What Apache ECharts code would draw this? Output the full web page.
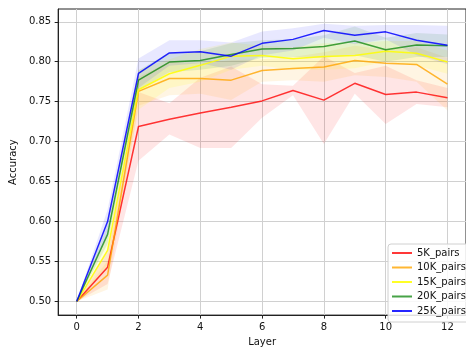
<!DOCTYPE html>
<html>
<head>
<meta charset="utf-8">
<script src="https://cdn.jsdelivr.net/npm/echarts@6/dist/echarts.min.js"></script>
<style>
  html, body { margin: 0; padding: 0; background: #fff; }
  #chart { width: 466px; height: 352px; }
</style>
</head>
<body>
<div id="chart"></div>
<script>
// Probe accuracy per layer, mean with a shaded lower/upper band per training size
const layers = [0, 1, 2, 3, 4, 5, 6, 7, 8, 9, 10, 11, 12];
const xTicks = [0, 2, 4, 6, 8, 10, 12];
const yTicks = [0.50, 0.55, 0.60, 0.65, 0.70, 0.75, 0.80, 0.85];

const names = ['5K_pairs', '10K_pairs', '15K_pairs', '20K_pairs', '25K_pairs'];

const mean5K = [0.500, 0.543, 0.719, 0.728, 0.736, 0.743, 0.751, 0.764, 0.752, 0.773, 0.759, 0.762, 0.755];
const low5K  = [0.500, 0.522, 0.676, 0.709, 0.692, 0.692, 0.730, 0.758, 0.697, 0.760, 0.722, 0.747, 0.743];
const high5K = [0.500, 0.565, 0.762, 0.748, 0.780, 0.794, 0.772, 0.770, 0.807, 0.786, 0.795, 0.777, 0.767];

const mean10K = [0.500, 0.533, 0.763, 0.779, 0.779, 0.777, 0.789, 0.7915, 0.7935, 0.8016, 0.798, 0.7967, 0.772];
const low10K  = [0.500, 0.515, 0.745, 0.758, 0.760, 0.752, 0.775, 0.777, 0.775, 0.783, 0.781, 0.775, 0.739];
const high10K = [0.500, 0.551, 0.781, 0.800, 0.798, 0.802, 0.803, 0.806, 0.812, 0.820, 0.815, 0.818, 0.805];

const mean15K = [0.500, 0.564, 0.765, 0.785, 0.7955, 0.807, 0.8077, 0.8037, 0.8065, 0.8077, 0.813, 0.8106, 0.7996];
const low15K  = [0.500, 0.545, 0.740, 0.767, 0.775, 0.790, 0.795, 0.790, 0.790, 0.792, 0.800, 0.795, 0.785];
const high15K = [0.500, 0.583, 0.790, 0.803, 0.816, 0.824, 0.820, 0.818, 0.823, 0.823, 0.826, 0.826, 0.814];

const mean20K = [0.500, 0.584, 0.777, 0.7996, 0.8016, 0.809, 0.816, 0.8167, 0.819, 0.826, 0.815, 0.821, 0.820];
const low20K  = [0.500, 0.572, 0.765, 0.787, 0.790, 0.795, 0.805, 0.806, 0.805, 0.808, 0.800, 0.806, 0.806];
const high20K = [0.500, 0.596, 0.789, 0.812, 0.813, 0.823, 0.827, 0.828, 0.833, 0.844, 0.830, 0.836, 0.834];

const mean25K = [0.500, 0.600, 0.7854, 0.811, 0.8126, 0.807, 0.823, 0.828, 0.839, 0.8333, 0.8374, 0.827, 0.8207];
const low25K  = [0.500, 0.585, 0.767, 0.795, 0.798, 0.790, 0.808, 0.814, 0.830, 0.822, 0.828, 0.808, 0.797];
const high25K = [0.500, 0.615, 0.804, 0.827, 0.827, 0.824, 0.838, 0.842, 0.8475, 0.845, 0.846, 0.846, 0.845];

const means = [mean5K, mean10K, mean15K, mean20K, mean25K];
const lows  = [low5K, low10K, low15K, low20K, low25K];
const highs = [high5K, high10K, high15K, high20K, high25K];

const lineColors = ['rgba(255,0,0,0.78)', 'rgba(255,165,0,0.8)', 'rgba(255,255,0,0.85)', 'rgba(0,128,0,0.72)', 'rgba(0,0,255,0.85)'];
const bandColors = ['rgba(255,0,0,0.10)', 'rgba(255,165,0,0.11)', 'rgba(255,255,0,0.13)', 'rgba(0,128,0,0.10)', 'rgba(0,0,255,0.09)'];

const FONT = 'DejaVu Sans';
const series = [];

// shaded bands: one polygon per size, upper edge forward then lower edge back
names.forEach((n, k) => {
  series.push({
    type: 'custom', name: n + ' band', silent: true, z: 1, clip: true,
    data: layers.map((x, i) => [x, lows[k][i], highs[k][i]]),
    encode: { x: 0, y: [1, 2] },
    renderItem: (params, api) => {
      if (params.dataIndex !== 0) return null;
      const pts = [];
      for (let i = 0; i < layers.length; i++) pts.push(api.coord([layers[i], highs[k][i]]));
      for (let i = layers.length - 1; i >= 0; i--) pts.push(api.coord([layers[i], lows[k][i]]));
      return { type: 'polygon', shape: { points: pts }, style: { fill: bandColors[k], stroke: null } };
    }
  });
});

// mean lines
names.forEach((n, k) => {
  series.push({
    type: 'line', name: n, symbol: 'none', z: 3,
    color: lineColors[k],
    lineStyle: { color: lineColors[k], width: 1.5 },
    data: layers.map((x, i) => [x, means[k][i]])
  });
});

const chart = echarts.init(document.getElementById('chart'), null, { renderer: 'canvas' });
chart.setOption({
  animation: false,
  backgroundColor: '#fff',
  textStyle: { fontFamily: FONT },
  grid: { left: 50, right: -7, top: 9, bottom: 28, show: true, borderColor: '#222', borderWidth: 1, backgroundColor: 'transparent' },
  xAxis: {
    type: 'value', min: -0.6, max: 12.6,
    name: 'Layer', nameLocation: 'middle', nameGap: 17,
    nameTextStyle: { fontSize: 10, color: '#111', fontFamily: FONT },
    axisLine: { show: true, onZero: false, lineStyle: { color: '#222', width: 1 } },
    axisTick: { show: true, length: 3.5, customValues: xTicks, lineStyle: { color: '#222', width: 1 } },
    axisLabel: { customValues: xTicks, margin: 7, fontSize: 10, color: '#111', fontFamily: FONT },
    splitLine: { show: true, lineStyle: { color: '#d0d0d0', width: 1 } }
  },
  yAxis: {
    type: 'value', min: 0.483, max: 0.866,
    name: 'Accuracy', nameLocation: 'middle', nameGap: 38, nameRotate: 90,
    nameTextStyle: { fontSize: 10, color: '#111', fontFamily: FONT },
    axisLine: { show: true, onZero: false, lineStyle: { color: '#222', width: 1 } },
    axisTick: { show: true, length: 3.5, customValues: yTicks, lineStyle: { color: '#222', width: 1 } },
    axisLabel: { customValues: yTicks, margin: 7, fontSize: 10, color: '#111', fontFamily: FONT,
      formatter: v => v.toFixed(2) },
    splitLine: { show: true, lineStyle: { color: '#d0d0d0', width: 1 } }
  },
  legend: {
    data: names,
    orient: 'vertical',
    left: 388, top: 244,
    padding: [4, 20, 6, 4],
    itemGap: 4.5,
    itemWidth: 20, itemHeight: 2,
    icon: 'rect',
    backgroundColor: 'rgba(255,255,255,0.85)',
    borderColor: '#d0d0d0', borderWidth: 1, borderRadius: 3,
    textStyle: { fontSize: 10, color: '#111', fontFamily: FONT }
  },
  series: series
});
</script>
</body>
</html>
